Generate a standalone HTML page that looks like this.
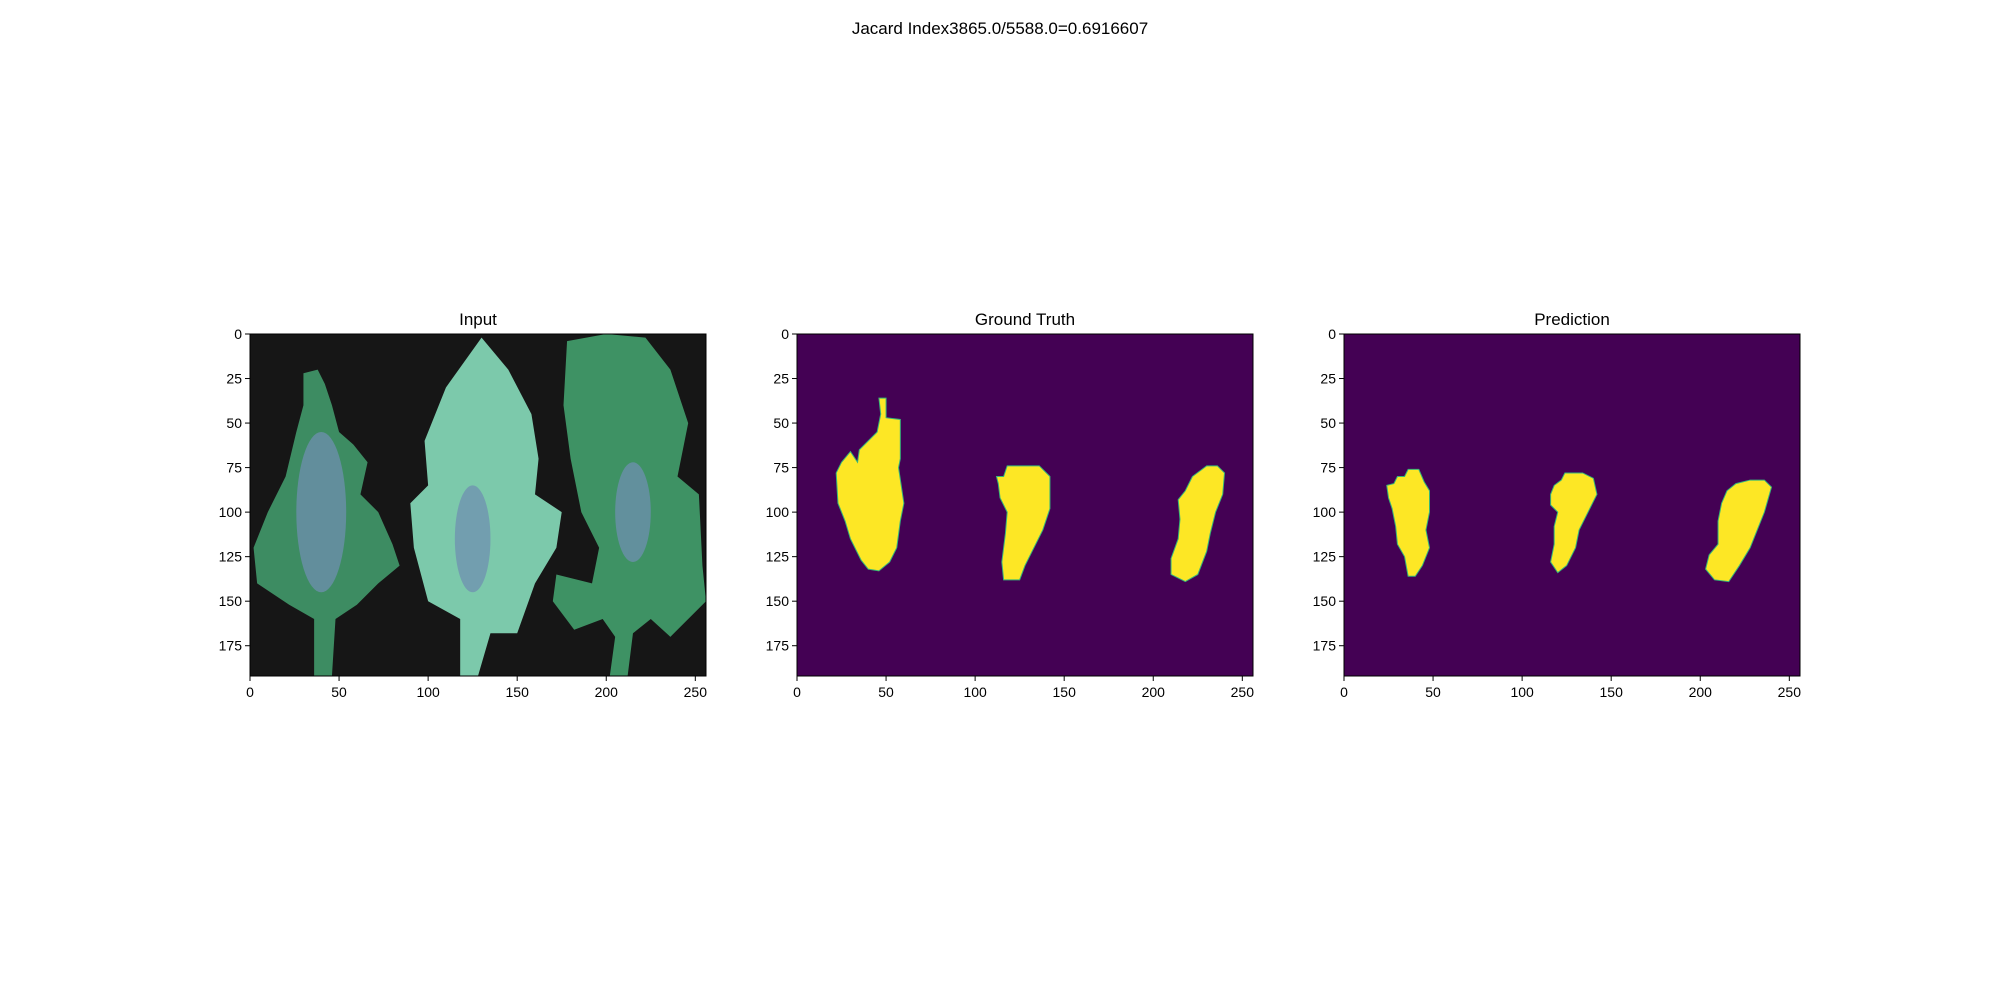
<!DOCTYPE html>
<html><head><meta charset="utf-8">
<style>
body{margin:0;background:#fff;}
svg text{font-family:"Liberation Sans","DejaVu Sans",sans-serif;}
</style></head>
<body>
<svg id="fig" width="2000" height="1000" viewBox="0 0 2000 1000">
<text x="1000" y="34" text-anchor="middle" font-size="17" fill="#000">Jacard Index3865.0/5588.0=0.6916607</text>
</svg>
<script>
const xTicks=[0,50,100,150,200,250];
const yTicks=[0,25,50,75,100,125,150,175];
const panelTitles=["Input","Ground Truth","Prediction"];
const gtBlobs=[
[[46,36],[50,36],[50,47],[58,48],[58,70],[57,75],[60,95],[58,105],[56,120],[52,128],[46,133],[40,132],[36,127],[30,115],[27,105],[23,95],[22,78],[25,72],[30,66],[34,72],[35,65],[40,60],[45,55],[47,45]],
[[112,80],[116,80],[118,74],[136,74],[142,80],[142,98],[138,110],[132,122],[128,130],[125,138],[116,138],[115,128],[117,112],[118,100],[114,92],[113,84]],
[[222,80],[230,74],[236,74],[240,78],[239,90],[235,100],[232,112],[230,122],[225,135],[218,139],[210,135],[210,126],[214,115],[215,104],[214,93],[218,88]]];
const predBlobs=[
[[24,85],[28,84],[30,80],[34,80],[36,76],[42,76],[45,83],[48,88],[48,100],[46,110],[48,120],[44,130],[40,136],[36,136],[34,125],[30,118],[29,108],[27,98],[25,92]],
[[116,90],[118,85],[122,82],[124,78],[134,78],[140,81],[142,90],[136,102],[132,110],[130,120],[125,130],[120,134],[116,128],[118,118],[118,108],[120,100],[116,96]],
[[215,88],[220,84],[228,82],[236,82],[240,86],[236,100],[232,110],[228,120],[222,130],[216,139],[208,138],[203,132],[205,124],[210,118],[210,105],[212,95]]];
const leaves=[
[[30,22],[38,20],[42,28],[46,40],[50,55],[58,62],[66,72],[62,90],[72,100],[80,118],[84,130],[72,140],[60,152],[48,160],[46,192],[36,192],[36,160],[22,152],[4,140],[2,120],[10,100],[20,80],[26,55],[30,40]],
[[130,2],[145,20],[158,45],[162,70],[160,90],[175,100],[172,120],[160,140],[150,168],[135,168],[128,192],[118,192],[118,160],[100,150],[92,120],[90,95],[100,85],[98,60],[110,30]],
[[178,4],[200,0],[222,2],[236,20],[246,50],[240,80],[252,90],[254,130],[256,150],[236,170],[225,160],[215,168],[212,192],[202,192],[205,170],[198,160],[182,166],[170,150],[172,135],[192,140],[196,120],[186,100],[180,70],[176,40]]];
const leafColors=["#3d8c62","#7cc9ab","#3e9264"];
const NS="http://www.w3.org/2000/svg";
const svg=document.getElementById("fig");
const panelX=[250,797,1344], PW=456, PH=342, PY=334;
function mk(tag,attrs,parent){const e=document.createElementNS(NS,tag);for(const k in attrs)e.setAttribute(k,attrs[k]);(parent||svg).appendChild(e);return e;}
panelX.forEach((px,i)=>{
  const sx=v=>px+v/256*PW, sy=v=>PY+v/192*PH;
  const g=mk("g",{});
  
  
  const bg=mk("rect",{x:px,y:PY,width:PW,height:PH,fill:i===0?"#161616":"#440154"},g);
  
  
  const pts=p=>p.map(q=>sx(q[0])+","+sy(q[1])).join(" ");
  if(i===0){
    leaves.forEach((l,j)=>{
      const e=mk("polygon",{points:pts(l),fill:leafColors[j]},g);
      
      
    });
    [[40,100,14,45],[125,115,10,30],[215,100,10,28]].forEach(c=>{
      const e=mk("ellipse",{cx:sx(c[0]),cy:sy(c[1]),rx:c[2]/256*PW,ry:c[3]/192*PH,fill:"#6f8fb0",opacity:0.75},g);
      
      
    });
  } else {
    (i===1?gtBlobs:predBlobs).forEach(b=>{
      const e=mk("polygon",{points:pts(b),fill:"#fde725",stroke:"#35b779","stroke-width":1},g);
      
      
    });
  }
  const fr=mk("rect",{x:px,y:PY,width:PW,height:PH,fill:"none",stroke:"#000","stroke-width":1},g);
  
  
  const t=mk("text",{x:px+PW/2,y:PY-9,"text-anchor":"middle","font-size":17},g);
  t.textContent=panelTitles[i];
  
  
  xTicks.forEach(v=>{
    mk("line",{x1:sx(v),x2:sx(v),y1:PY+PH,y2:PY+PH+5,stroke:"#000"},g);
    const tx=mk("text",{x:sx(v),y:PY+PH+21,"text-anchor":"middle","font-size":14},g);
    tx.textContent=v;
    
    
  });
  yTicks.forEach(v=>{
    mk("line",{x1:px-5,x2:px,y1:sy(v),y2:sy(v),stroke:"#000"},g);
    const ty=mk("text",{x:px-8,y:sy(v)+5,"text-anchor":"end","font-size":14},g);
    ty.textContent=v;
    
    
  });
});
</script>
</body></html>
